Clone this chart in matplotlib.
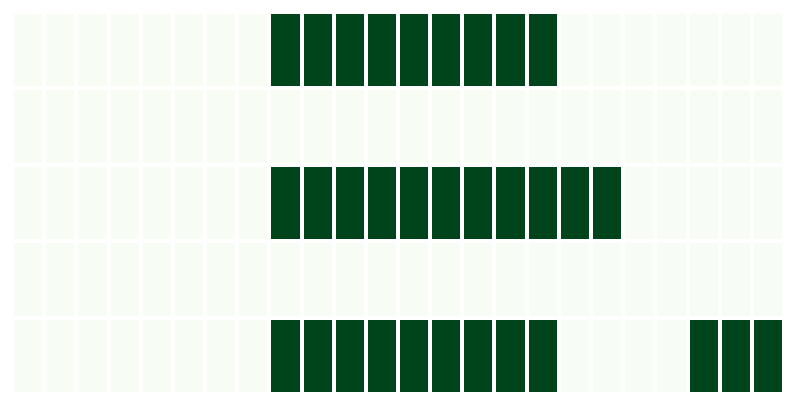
import numpy as np
import matplotlib
matplotlib.use("Agg")
import matplotlib.pyplot as plt

n_cols = 24
row_names = ["r0", "r1", "r2", "r3", "r4"]
# columns that are "on" in each row
on_cols = {
    "r0": list(range(8, 17)),
    "r1": [],
    "r2": list(range(8, 19)),
    "r3": [],
    "r4": list(range(8, 17)) + [21, 22, 23],
}

grid = np.zeros((len(row_names), n_cols))
for i, name in enumerate(row_names):
    for c in on_cols[name]:
        grid[i, c] = 1

fig = plt.figure(figsize=(7.94, 4.05), dpi=100)
ax = fig.add_axes([12 / 794, 1 - 394 / 405, 772 / 794, 382 / 405])
ax.pcolormesh(grid, cmap="Greens", vmin=0, vmax=1, edgecolors="white", linewidth=1.5)
ax.set_xlim(0, n_cols)
ax.set_ylim(len(row_names), 0)
ax.axis("off")
fig.savefig("out.png", dpi=100, facecolor="white")
